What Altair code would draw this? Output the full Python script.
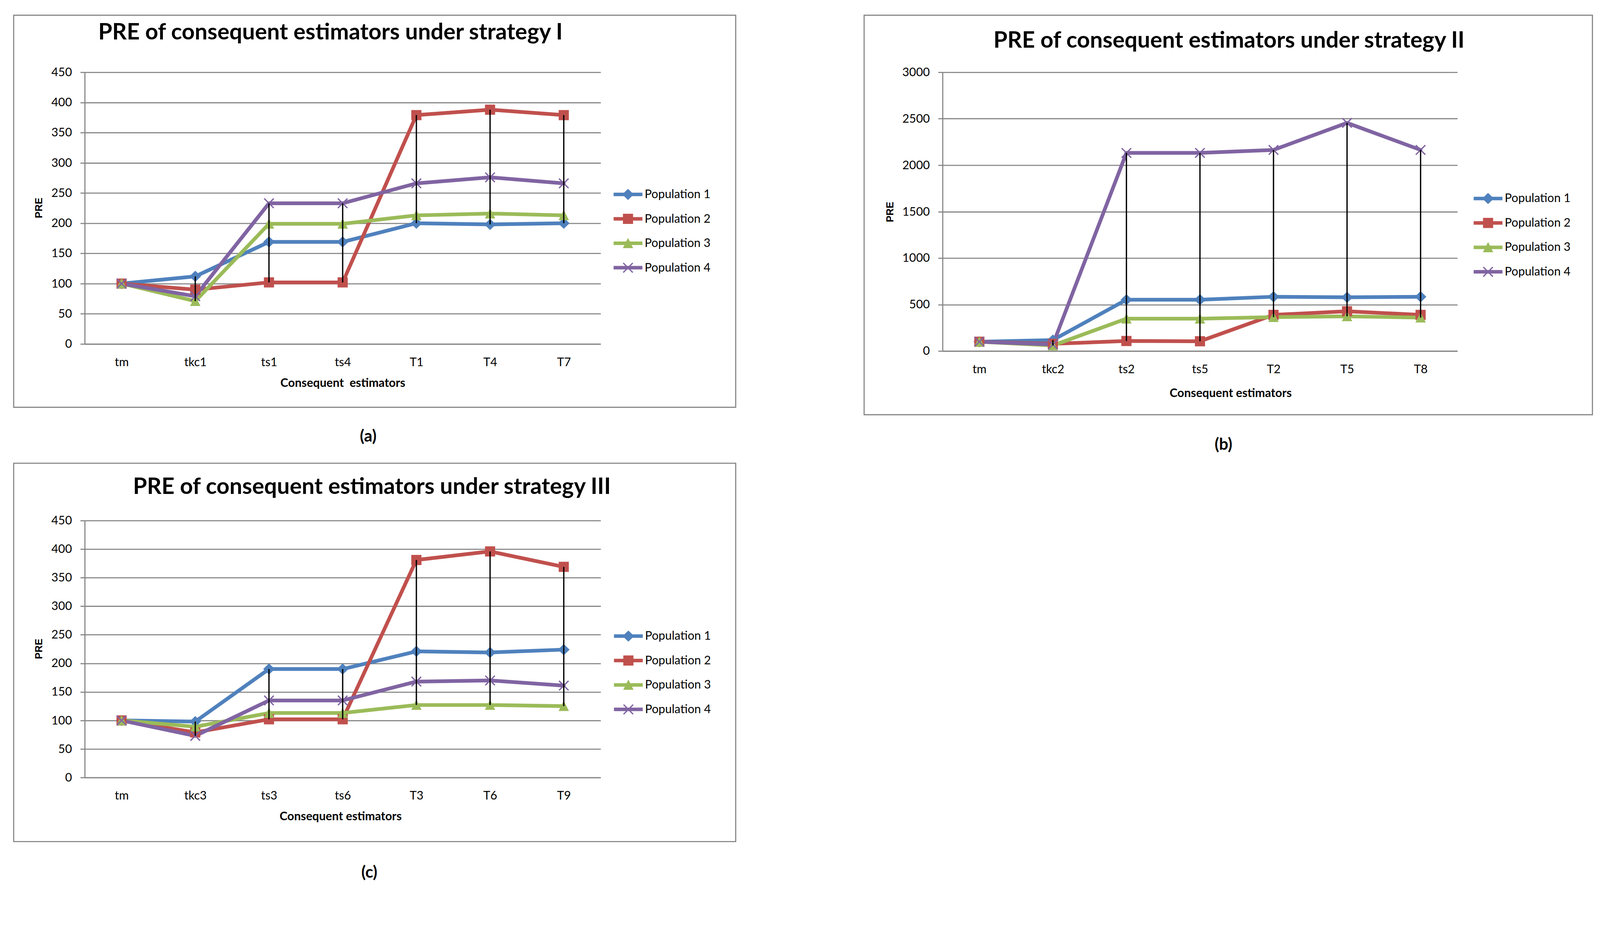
import altair as alt
import pandas as pd

# ---------------- data ----------------
series = ["Population 1", "Population 2", "Population 3", "Population 4"]
colors = ["#4F81BD", "#C0504D", "#9BBB59", "#8064A2"]

cats_a = ["tm", "tkc1", "ts1", "ts4", "T1", "T4", "T7"]
a_p1 = [100, 112, 169, 169, 200, 198, 200]
a_p2 = [100, 90, 102, 102, 379, 388, 379]
a_p3 = [100, 71, 199, 199, 213, 216, 213]
a_p4 = [100, 79, 233, 233, 266, 276, 266]

cats_b = ["tm", "tkc2", "ts2", "ts5", "T2", "T5", "T8"]
b_p1 = [100, 118, 552, 552, 584, 578, 584]
b_p2 = [100, 78, 108, 105, 389, 428, 389]
b_p3 = [100, 60, 348, 348, 365, 373, 360]
b_p4 = [100, 70, 2132, 2132, 2164, 2455, 2164]

cats_c = ["tm", "tkc3", "ts3", "ts6", "T3", "T6", "T9"]
c_p1 = [100, 98, 190, 190, 221, 219, 224]
c_p2 = [100, 79, 102, 102, 381, 396, 369]
c_p3 = [100, 89, 113, 113, 127, 127, 125]
c_p4 = [100, 73, 135, 135, 168, 170, 161]

titles = ["PRE of consequent estimators under strategy I",
          "PRE of consequent estimators under strategy II",
          "PRE of consequent estimators under strategy III"]
x_titles = ["Consequent\u00a0 estimators", "Consequent estimators", "Consequent estimators"]
panel_labels = ["(a)", "(b)", "(c)"]
y_title = "PRE"

GRAY = "#868686"

# marker shapes (unit = 28 px at size 3136)
diamond = "M0,-0.54L0.56,0L0,0.54L-0.56,0Z"
square = "M-0.49,-0.49H0.49V0.49H-0.49Z"
triangle = "M0,-0.52L0.5,0.47L-0.5,0.47Z"
xmark = ("M-0.416,-0.504L0.504,0.416L0.416,0.504L-0.504,-0.416Z"
         "M-0.504,0.416L0.416,-0.504L0.504,-0.416L-0.416,0.504Z")
markers = [diamond, square, triangle, xmark]
bar = "M-1.39,-0.17H1.39V0.17H-1.39Z"
legend_symbols = [bar + m for m in markers]
SIZE = 3136


def make_df(cats, vals):
    rows = []
    for s, v in zip(series, vals):
        for c, y in zip(cats, v):
            rows.append({"Estimator": c, "Series": s, "PRE": y})
    return pd.DataFrame(rows)


def text_layer(txt, x, y, size, baseline="alphabetic", font="Lato"):
    return alt.Chart(pd.DataFrame({"t": [txt]})).mark_text(
        font=font, fontSize=size, fontWeight="bold", align="center",
        baseline=baseline, color="black"
    ).encode(x=alt.value(x), y=alt.value(y), text="t:N")


def panel(cats, vals, ymax, ystep, w, h, title, title_x, title_y,
          label, label_x, label_y, border, legend_x, legend_y,
          xtitle, xtitle_x, xtitle_y, ytitle_x, ytitle_y):
    df = make_df(cats, vals)
    base = alt.Chart(df)

    xaxis = alt.Axis(ticks=False, tickSize=0, labelPadding=49, labelBaseline="middle",
                     labelAngle=0, grid=False, domain=True, labelFont="Lato",
                     labelFontSize=32, labelColor="black",
                     titleX=xtitle_x, titleY=xtitle_y, titleBaseline="middle",
                     titleAlign="center", titleFont="Lato", titleFontSize=32,
                     titleFontWeight="bold", titleColor="black")
    yaxis = alt.Axis(values=list(range(0, ymax + 1, ystep)), tickSize=12, labelPadding=23,
                     grid=True, format="d", labelFont="Lato", labelFontSize=32,
                     labelColor="black",
                     titleX=ytitle_x, titleY=ytitle_y, titleAngle=270,
                     titleBaseline="middle", titleAlign="center",
                     titleFont="Liberation Sans", titleFontSize=27,
                     titleFontWeight="bold", titleColor="black")

    x = alt.X("Estimator:N", sort=cats, scale=alt.Scale(type="point", padding=0.5),
              axis=xaxis, title=xtitle)
    x_plain = alt.X("Estimator:N", sort=cats, title=xtitle)
    y = alt.Y("PRE:Q", scale=alt.Scale(domain=[0, ymax], nice=False, zero=True),
              axis=yaxis, title=y_title)
    y_plain = alt.Y("PRE:Q", title=y_title)

    color_nolegend = alt.Color("Series:N", scale=alt.Scale(domain=series, range=colors),
                               legend=None)

    bx1, bx2, by1, by2 = border
    frame = alt.Chart(pd.DataFrame({"k": [0]})).mark_rect(
        fill="white", fillOpacity=0, stroke=GRAY, strokeWidth=3
    ).encode(x=alt.value(bx1), x2=alt.value(bx2), y=alt.value(by1), y2=alt.value(by2))

    lines = base.mark_line(strokeWidth=10, strokeJoin="round", strokeCap="round").encode(
        x=x, y=y, color=color_nolegend, detail="Series:N")
    points = base.mark_point(filled=True, size=SIZE, opacity=1, strokeWidth=0).encode(
        x=x_plain, y=y_plain, color=color_nolegend,
        shape=alt.Shape("Series:N", scale=alt.Scale(domain=series, range=markers),
                        legend=None))
    rules = base.transform_aggregate(
        lo="min(PRE)", hi="max(PRE)", groupby=["Estimator"]
    ).mark_rule(color="black", strokeWidth=3.5).encode(
        x=x_plain, y=alt.Y("lo:Q", title=y_title), y2="hi:Q")

    leg = dict(title=None, orient="none", legendX=legend_x, legendY=legend_y,
               symbolSize=SIZE, symbolStrokeWidth=0, symbolOpacity=1,
               labelFont="Lato", labelFontSize=32, labelColor="black",
               labelOffset=17, rowPadding=22, padding=0, direction="vertical",
               labelLimit=0)
    legend_layer = base.transform_filter("false").mark_point(
        filled=True, size=SIZE, opacity=1, strokeWidth=0
    ).encode(
        x=x_plain, y=y_plain,
        color=alt.Color("Series:N", scale=alt.Scale(domain=series, range=colors),
                        legend=alt.Legend(**leg)),
        shape=alt.Shape("Series:N", scale=alt.Scale(domain=series, range=legend_symbols),
                        legend=alt.Legend(**leg)))

    ttl = text_layer(title, title_x, title_y, 61)
    lbl = text_layer(label, label_x, label_y, 44, baseline="middle")

    return alt.layer(frame, lines, points, rules, legend_layer, ttl, lbl).properties(
        width=w, height=h
    ).resolve_scale(color="independent", shape="independent")


pa = panel(cats_a, [a_p1, a_p2, a_p3, a_p4], 450, 50, 1394, 734,
           titles[0], 664, -88, panel_labels[0], 766, 985,
           (-192, 1759, -154, 905), 1440, 302,
           x_titles[0], 697, 105, -123, 366)
pb = panel(cats_b, [b_p1, b_p2, b_p3, b_p4], 3000, 500, 1391, 753,
           titles[1], 774, -66, panel_labels[1], 759, 1007,
           (-212, 1756, -154, 925), 1446, 313,
           x_titles[1], 778, 114, -141, 377)
pc = panel(cats_c, [c_p1, c_p2, c_p3, c_p4], 450, 50, 1394, 694,
           titles[2], 776, -72, panel_labels[2], 769, 952,
           (-192, 1759, -155, 867), 1441, 284,
           x_titles[2], 691, 105, -123, 346)

chart = alt.concat(pa, pb, pc, columns=2, spacing={"row": 458, "column": 924},
                   bounds="flush").resolve_scale(
    color="independent", shape="independent"
).properties(
    padding={"left": 26.5, "top": -33.5, "right": 10, "bottom": 4},
    background="white"
).configure_view(stroke="transparent").configure_axis(
    gridColor=GRAY, gridWidth=3, domainColor=GRAY, domainWidth=3,
    tickColor=GRAY, tickWidth=3
)

chart.save("out.html", embed_options={"renderer": "svg", "actions": False})
